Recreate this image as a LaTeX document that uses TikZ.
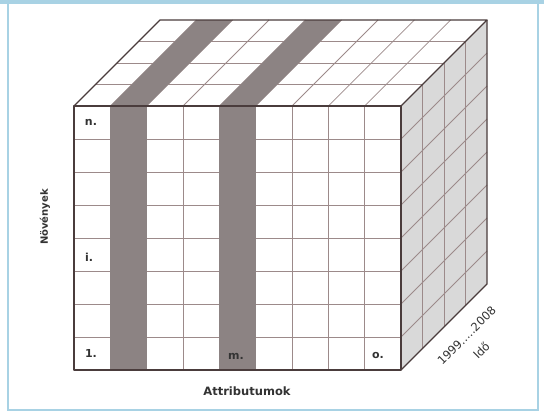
\documentclass[tikz,border=0pt]{standalone}
\usepackage{fontspec}
\setmainfont{DejaVu Sans}
\definecolor{outl}{HTML}{4A3C3C}
\definecolor{gridc}{HTML}{9C8A8A}
\definecolor{band}{HTML}{8C8383}
\definecolor{sidef}{HTML}{D9D9D9}
\definecolor{frame}{HTML}{A8D2E4}
\definecolor{txt}{HTML}{333333}
\tikzset{
  gridline/.style={draw=gridc, line width=0.8pt},
  outline/.style={draw=outl, line width=1.4pt, line join=round},
  celllabel/.style={font=\bfseries\fontsize{11}{13}\selectfont, text=txt, inner sep=0pt},
  axislabel/.style={font=\bfseries\fontsize{11.5}{13}\selectfont, text=txt, inner sep=0pt},
  yearlabel/.style={font=\fontsize{11.5}{21}\selectfont, text=txt, inner sep=0pt, rotate=45, align=center},
}
\begin{document}
\begin{tikzpicture}[x=1pt,y=-1pt]
\useasboundingbox (0,0) rectangle (544,415);
\fill[white] (0,0) rectangle (544,415);
% frame
\fill[frame] (0,0) rectangle (544,4);
\draw[frame, line width=1.2pt] (8,4) -- (8,410) -- (538,410) -- (538,4);
% faces
\fill[white] (74,106) -- (401,106) -- (487,20) -- (160,20) -- cycle;
\fill[sidef] (401,106) -- (487,20) -- (487,284) -- (401,370) -- cycle;
% front grid and top-face diagonals
\foreach \i in {1,...,8} {
  \pgfmathsetmacro{\xx}{74+\i*327/9}
  \draw[gridline] (\xx,106) -- (\xx,370);
  \draw[gridline] (\xx,106) -- ({\xx+86},20);
}
% rows and right-face diagonals
\foreach \j in {1,...,7} {
  \pgfmathsetmacro{\yy}{106+\j*33}
  \draw[gridline] (74,\yy) -- (401,\yy);
  \draw[gridline] (401,\yy) -- (487,{\yy-86});
}
% depth lines
\foreach \k in {1,2,3} {
  \pgfmathsetmacro{\t}{\k*86/4}
  \draw[gridline] ({74+\t},{106-\t}) -- ({401+\t},{106-\t});
  \draw[gridline] ({401+\t},{106-\t}) -- ({401+\t},{370-\t});
}
% grey bands (columns 2 and 5)
\foreach \c in {1,4} {
  \pgfmathsetmacro{\xa}{74+\c*327/9}
  \pgfmathsetmacro{\xb}{74+(\c+1)*327/9}
  \fill[band] (\xa,106) rectangle (\xb,370);
  \fill[band] (\xa,106) -- (\xb,106) -- ({\xb+86},20) -- ({\xa+86},20) -- cycle;
}
% outline
\draw[outline] (74,106) rectangle (401,370);
\draw[outline] (74,106) -- (160,20) -- (487,20) -- (401,106);
\draw[outline] (487,20) -- (487,284) -- (401,370);
% labels
\node[celllabel] (ln) at (91,122) {n.};
\node[celllabel] (li) at (89,257) {i.};
\node[celllabel] (l1) at (91,353) {1.};
\node[celllabel] (lm) at (236,356) {m.};
\node[celllabel] (lo) at (378,355) {o.};
\node[axislabel] (attr) at (247,391) {Attributumok};
\node[axislabel, font=\bfseries\fontsize{10}{12}\selectfont, rotate=90] (nov) at (45,217) {Növények};
\node[yearlabel] (years) at (474,343) {1999.....2008\\Idő};
\end{tikzpicture}
\end{document}
